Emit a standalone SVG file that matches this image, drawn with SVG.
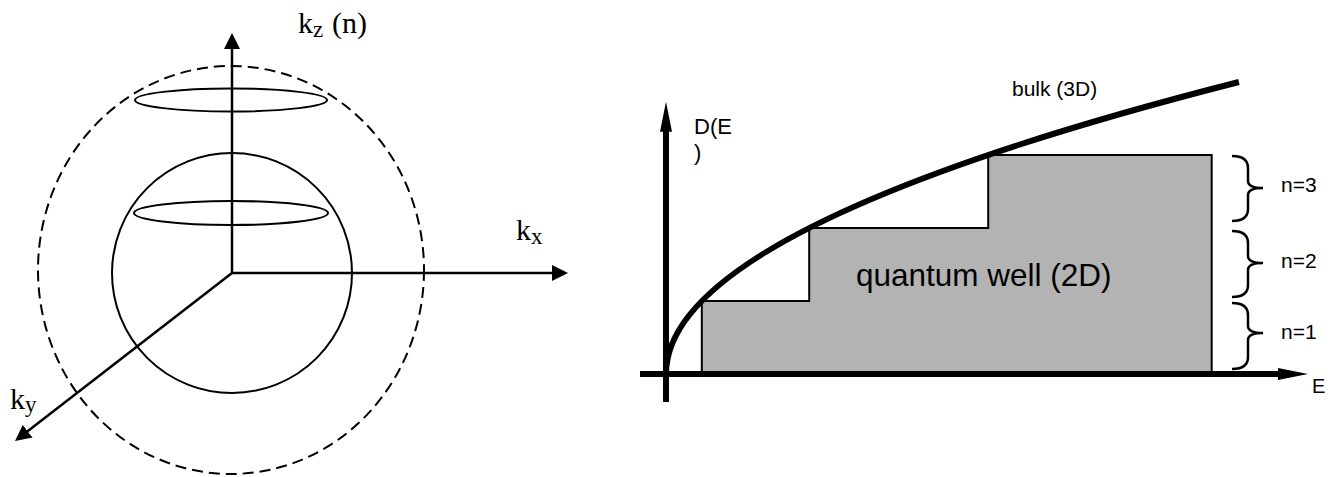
<svg xmlns="http://www.w3.org/2000/svg" width="1333" height="477" viewBox="0 0 1333 477">
<style>
.thin{fill:none;stroke:#000;stroke-width:2}
.ax{fill:none;stroke:#000;stroke-width:2.5}
.dash{fill:none;stroke:#000;stroke-width:2;stroke-dasharray:11 6}
.thick{fill:none;stroke:#000;stroke-width:6}
.brace{fill:none;stroke:#000;stroke-width:2.5}
.serif{font-family:"Liberation Serif","Times New Roman",serif;fill:#000}
.sans{font-family:"Liberation Sans",Arial,sans-serif;fill:#000}
</style>
<defs>
<marker id="arrS" viewBox="0 0 16 16" refX="3" refY="8" markerWidth="16" markerHeight="16" markerUnits="userSpaceOnUse" orient="auto">
<path d="M0,0 L16,8 L0,16 z" fill="#000"/>
</marker>
<marker id="arrL" viewBox="0 0 30 12" refX="4" refY="6" markerWidth="30" markerHeight="12" markerUnits="userSpaceOnUse" orient="auto">
<path d="M0,0 L30,6 L0,12 z" fill="#000"/>
</marker>
</defs>
<rect width="1333" height="477" fill="#fff"/>

<g id="k-space">
<ellipse class="dash" cx="231" cy="270" rx="193" ry="204"/>
<circle class="thin" cx="232" cy="273" r="120"/>
<ellipse class="thin" cx="231" cy="100" rx="96" ry="11.5"/>
<ellipse class="thin" cx="231" cy="213" rx="97" ry="12"/>
</g>

<g id="connectors">
<line class="ax" x1="232" y1="273" x2="232" y2="46" marker-end="url(#arrS)"/>
<line class="ax" x1="232" y1="273" x2="555" y2="273" marker-end="url(#arrS)"/>
<line class="ax" x1="232" y1="273" x2="25.3" y2="433" marker-end="url(#arrS)"/>
</g>

<g id="k-labels">
<text class="serif" x="298" y="33" font-size="30">k<tspan font-size="23" dy="4">z</tspan><tspan x="332" dy="-4">(n)</tspan></text>
<text class="serif" x="516" y="240" font-size="30">k<tspan font-size="23" dy="4">x</tspan></text>
<text class="serif" x="10" y="409" font-size="30">k<tspan font-size="23" dy="3">y</tspan></text>
</g>

<g id="qw-steps">
<polygon points="701.8,374 701.8,301 809.2,301 809.2,228 988.2,228 988.2,155 1211.7,155 1211.7,374" fill="#b3b3b3" stroke="#000" stroke-width="2"/>
</g>

<g id="dos-axes">
<line class="thick" x1="666" y1="402" x2="666" y2="127.7" marker-end="url(#arrL)"/>
<line class="thick" x1="640" y1="374" x2="1282" y2="374" marker-end="url(#arrL)"/>
</g>

<g id="bulk-curve">
<path class="thick" d="M666,374 Q666,228 1238.9,82"/>
</g>

<g id="braces">
<path class="brace" d="M1232,156 Q1248,156 1248,168 L1248,181 Q1248,188 1263,188 Q1248,188 1248,195 L1248,209 Q1248,221 1232,221"/>
<path class="brace" d="M1232,231 Q1248,231 1248,243 L1248,256 Q1248,263 1263,263 Q1248,263 1248,270 L1248,285 Q1248,297 1232,297"/>
<path class="brace" d="M1232,303 Q1248,303 1248,315 L1248,326 Q1248,333 1263,333 Q1248,333 1248,340 L1248,357 Q1248,369 1232,369"/>
</g>

<g id="dos-labels">
<text class="sans" x="694" y="134" font-size="22">D(E</text>
<text class="sans" x="694" y="160" font-size="22">)</text>
<text class="sans" x="1012" y="96" font-size="21">bulk (3D)</text>
<text class="sans" x="856" y="286" font-size="31.5">quantum well (2D)</text>
<text class="sans" x="1281" y="192" font-size="21">n=3</text>
<text class="sans" x="1281" y="268" font-size="21">n=2</text>
<text class="sans" x="1281" y="339" font-size="21">n=1</text>
<text class="sans" x="1312" y="393" font-size="20">E</text>
</g>
</svg>
